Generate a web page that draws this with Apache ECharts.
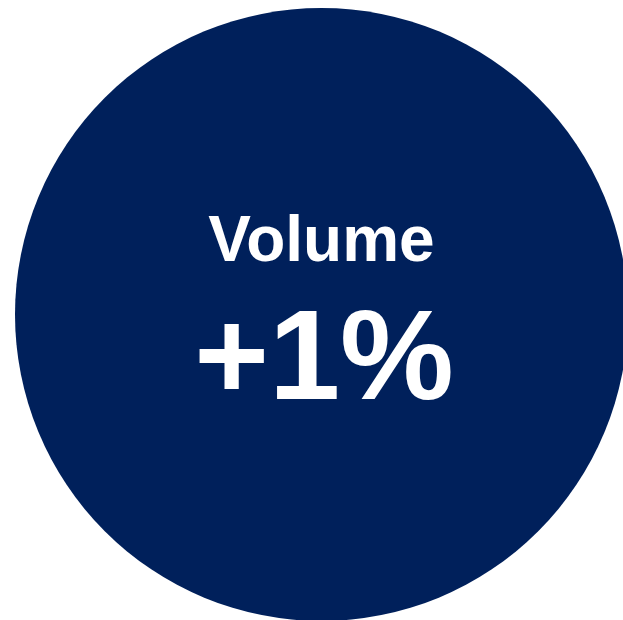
<!DOCTYPE html>
<html>
<head>
<meta charset="utf-8">
<script src="https://cdn.jsdelivr.net/npm/echarts@6/dist/echarts.min.js"></script>
<style>
html,body{margin:0;padding:0;background:#fff;}
#c{width:623px;height:620px;}
</style>
</head>
<body>
<div id="c"></div>
<script>
var categories = ['Volume'];
var values = [1];
var changeLabels = ['+1%'];

var chart = echarts.init(document.getElementById('c'), null, {renderer: 'canvas'});
chart.setOption({
  animation: false,
  series: [{
    type: 'pie',
    silent: true,
    z: 1,
    center: [321.5, 314.5],
    radius: [0, 306.5],
    startAngle: 90,
    label: {show: false},
    labelLine: {show: false},
    itemStyle: {color: '#00205B', borderWidth: 0},
    data: categories.map(function (c, i) { return {name: c, value: values[i]}; })
  }],
  graphic: {
    elements: [
      {
        type: 'text',
        z: 100,
        zlevel: 1,
        style: {
          text: categories[0],
          x: 321.5, y: 243.5,
          align: 'center', verticalAlign: 'middle',
          fill: '#ffffff',
          font: 'bold 64px "Liberation Sans", Arial, sans-serif'
        }
      },
      {
        type: 'text',
        z: 100,
        zlevel: 1,
        style: {
          text: changeLabels[0],
          x: 324, y: 364,
          align: 'center', verticalAlign: 'middle',
          fill: '#ffffff',
          font: 'bold 128px "Liberation Sans", Arial, sans-serif'
        }
      }
    ]
  }
});
</script>
</body>
</html>
